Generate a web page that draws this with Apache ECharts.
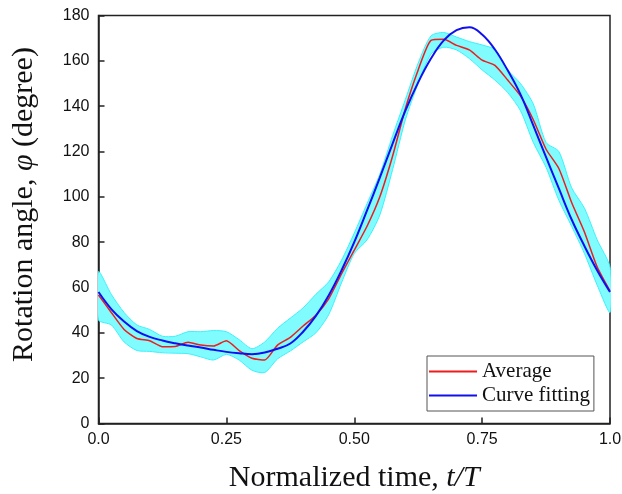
<!DOCTYPE html>
<html lang="en">
<head>
    <meta charset="UTF-8">
    <title>Rotation angle</title>
    <style>
        html,body{
            height: 100%;
        }
        body{
            margin: 0;
            padding: 0;
            background: #fff;
        }
        #chart{
            width: 622px;
            height: 494px;
        }
    </style>
</head>
<body>
    <div id="chart"></div>
</body>
</html>
<script src="https://cdn.jsdelivr.net/npm/echarts@6/dist/echarts.min.js"></script>
<script>
    // normalized time, step 0.025
    var tValues = [0, 0.025, 0.05, 0.075, 0.1, 0.125, 0.15, 0.175, 0.2, 0.225,
        0.25, 0.275, 0.3, 0.325, 0.35, 0.375, 0.4, 0.425, 0.45, 0.475,
        0.5, 0.525, 0.55, 0.575, 0.6, 0.625, 0.65, 0.675, 0.7, 0.725,
        0.75, 0.775, 0.8, 0.825, 0.85, 0.875, 0.9, 0.925, 0.95, 0.975, 1.0];
    var average = [56.7, 49, 41.5, 37.5, 36.5, 33.9, 34, 35.8, 34.6, 34.2,
        36.5, 32.2, 28.8, 28, 34.6, 38, 43, 47.8, 55, 66,
        76.5, 87, 100, 118, 139, 156, 169, 169.5, 166.8, 164.8,
        160.3, 158, 151.5, 144.5, 134, 121, 112.5, 97.5, 84.5, 69, 58.5];
    var curveFit = [58, 50.5, 45, 40.8, 38.2, 36.6, 35.4, 34.4, 33.5, 32.5,
        31.6, 31, 30.6, 31.3, 33, 35.3, 40.5, 47.5, 56.5, 67.5,
        80, 94, 108.5, 123.5, 138, 150.5, 161, 169, 173.5, 174.8,
        171.6, 165, 155.8, 145.2, 131.5, 117.5, 103.7, 90, 78.3, 67.5, 58];
    var upperBand = [67, 57, 49, 43.5, 41.5, 38.5, 38.5, 40.5, 40.5, 41,
        40.5, 37, 33, 36, 42, 46.5, 51, 57, 62.5, 72,
        84, 97, 110, 127, 143, 159, 171, 172.5, 170.5, 168.5,
        167, 165, 156, 150, 141, 124, 120, 104, 95, 81, 69];
    var lowerBand = [45.7, 43.5, 36, 32.2, 31.8, 31.2, 31, 30.8, 29.4, 28,
        30.5, 28, 23.5, 22.5, 28.5, 32, 36, 40, 48, 62,
        75, 81, 92, 112, 134, 150, 163, 166, 164.8, 161,
        156, 151.5, 146, 138, 124, 113, 98.5, 87, 75, 61, 49];
    var xTickLabels = {0: '0.0', 0.25: '0.25', 0.5: '0.50', 0.75: '0.75', 1: '1.0'};

    function pairs(ys) {
        return tValues.map(function (t, i) { return [t, ys[i]]; });
    }

    var myChart = echarts.init(document.getElementById('chart'));
    var serif = '"Liberation Serif", "Times New Roman", serif';
    var sans = '"Liberation Sans", Arial, sans-serif';

    // shaded band: polygon from upper edge then lower edge backwards
    function renderBand(params, api) {
        var pts = [];
        for (var i = 0; i < tValues.length; i++) {
            pts.push(api.coord([tValues[i], upperBand[i]]));
        }
        for (var j = tValues.length - 1; j >= 0; j--) {
            pts.push(api.coord([tValues[j], lowerBand[j]]));
        }
        return {
            type: 'polygon',
            shape: {points: pts, smooth: 0.25},
            style: {fill: '#80fcff', stroke: '#3cf0fb', lineWidth: 1}
        };
    }

    myChart.setOption({
        animation: false,
        grid: {
            left: 98.5, right: 12, top: 15.5, bottom: 70.5,
            outerBoundsMode: 'none', containLabel: false,
            show: true, borderColor: '#222', borderWidth: 1.5
        },
        legend: {
            data: [
                {name: 'Average', icon: 'rect'},
                {name: 'Curve fitting', icon: 'rect'}
            ],
            orient: 'vertical',
            left: 427, top: 356,
            padding: [5, 4, 5, 2],
            itemGap: 3,
            itemWidth: 48, itemHeight: 2,
            borderColor: '#555', borderWidth: 1,
            textStyle: {fontFamily: serif, fontSize: 21, color: '#111'}
        },
        xAxis: {
            type: 'value', min: 0, max: 1, interval: 0.25,
            name: '{a|Normalized time, }{b|t/T}',
            nameLocation: 'middle', nameGap: 40,
            nameTextStyle: {
                rich: {
                    a: {fontFamily: serif, fontSize: 30, color: '#111'},
                    b: {fontFamily: serif, fontSize: 30, fontStyle: 'italic', color: '#111'}
                }
            },
            axisLine: {lineStyle: {color: '#222', width: 1.5}},
            axisTick: {inside: true, length: 6, lineStyle: {color: '#222', width: 1.5}},
            axisLabel: {
                fontFamily: sans, fontSize: 16, color: '#111', margin: 8,
                formatter: function (v) { return xTickLabels[v] !== undefined ? xTickLabels[v] : ''; }
            },
            splitLine: {show: false}
        },
        yAxis: {
            type: 'value', min: 0, max: 180, interval: 20,
            name: '{a|Rotation angle, }{b|φ}{a| (degree)}',
            nameLocation: 'middle', nameGap: 59, nameRotate: 90,
            nameTextStyle: {
                padding: [0, 0, 0, 30],
                rich: {
                    a: {fontFamily: serif, fontSize: 30, color: '#111'},
                    b: {fontFamily: serif, fontSize: 30, fontStyle: 'italic', color: '#111'}
                }
            },
            axisLine: {lineStyle: {color: '#222', width: 1.5}},
            axisTick: {inside: true, length: 6, lineStyle: {color: '#222', width: 1.5}},
            axisLabel: {fontFamily: sans, fontSize: 16, color: '#111', margin: 9},
            splitLine: {show: false}
        },
        series: [
            {
                name: 'band', type: 'custom', renderItem: renderBand,
                data: [0], clip: true, silent: true, z: 1
            },
            {
                name: 'Average', type: 'line', data: pairs(average),
                symbol: 'none', smooth: 0.2, z: 2,
                lineStyle: {color: '#ee1c1c', width: 1.5},
                itemStyle: {color: '#ee1c1c'}
            },
            {
                name: 'Curve fitting', type: 'line', data: pairs(curveFit),
                symbol: 'none', smooth: 0.4, z: 3,
                lineStyle: {color: '#1010ee', width: 2},
                itemStyle: {color: '#1010ee'}
            }
        ]
    });
</script>
